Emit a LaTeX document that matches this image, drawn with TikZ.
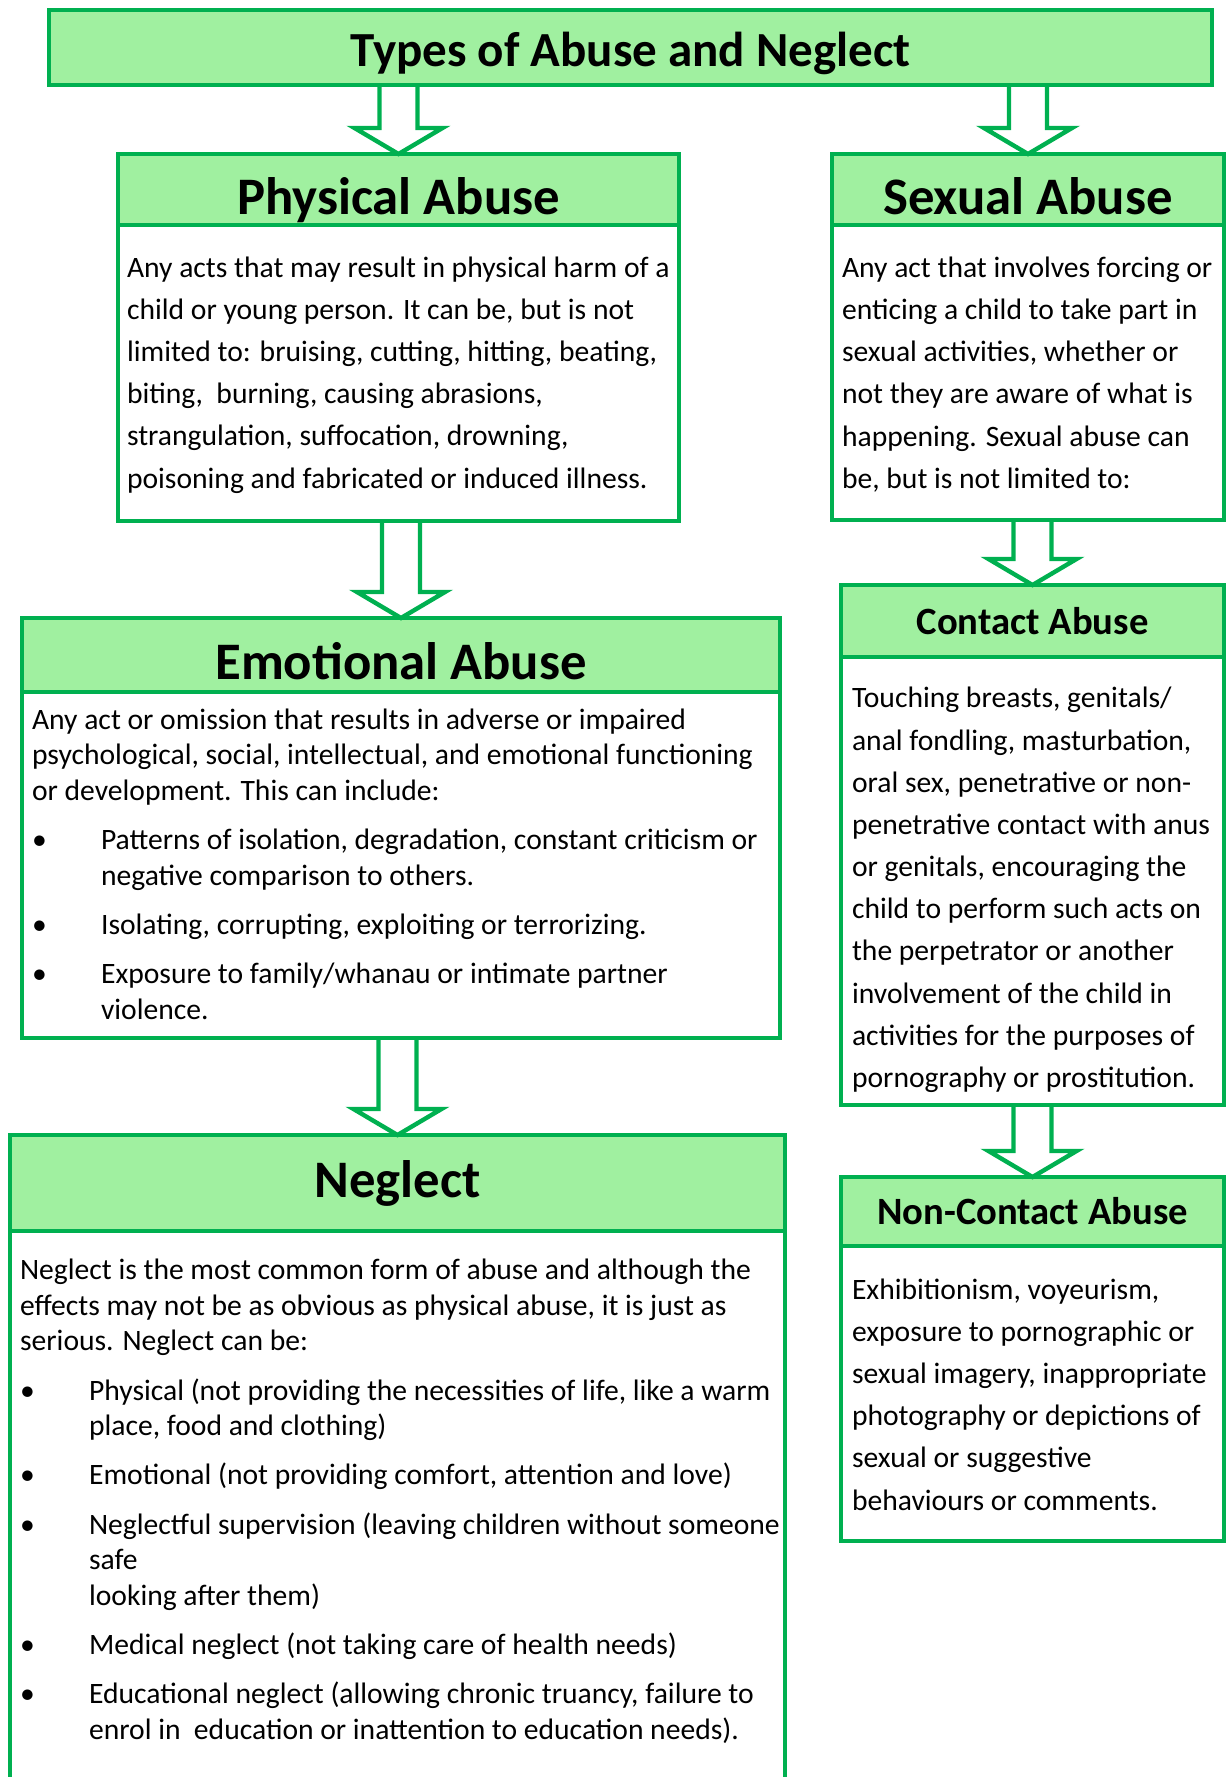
\documentclass[tikz,border=0pt]{standalone}
\usepackage{fontspec}
\setmainfont{Carlito}
\usetikzlibrary{calc}
\definecolor{boxgreen}{RGB}{0,176,80}
\definecolor{headfill}{RGB}{160,240,160}
\newcommand{\bul}{\makebox[1.38cm][l]{\textbullet}}
\newcommand{\ind}{\hspace*{1.38cm}}
\newcommand{\hollowarrow}[2]{%
  \draw[arrowline] ($(#1.south -| #2.north)+(-19,0)$) -- ($(#2.north)+(-19,-26)$)
    -- ($(#2.north)+(-44,-26)$) -- (#2.north) -- ($(#2.north)+(44,-26)$)
    -- ($(#2.north)+(19,-26)$) -- ($(#1.south -| #2.north)+(19,0)$);}

\begin{document}
\begin{tikzpicture}[
  x=0.02cm, y=-0.02cm,
  every node/.style={inner sep=0pt,outer sep=0pt},
  headbox/.style={draw=boxgreen,fill=headfill,line width=2.5pt,
    font=\fontsize{30pt}{36pt}\selectfont\bfseries},
  subhead/.style={headbox,font=\fontsize{22pt}{26pt}\selectfont\bfseries},
  titlebox/.style={headbox,font=\fontsize{27.9pt}{33pt}\selectfont\bfseries},
  bodybox/.style={draw=boxgreen,fill=white,line width=2.5pt},
  loosetext/.style={align=left,font=\fontsize{16.85pt}{24pt}\selectfont},
  tighttext/.style={align=left,font=\fontsize{16.85pt}{20.3pt}\selectfont},
  arrowline/.style={draw=boxgreen,line width=2.5pt}
]
  \useasboundingbox (0,0) rectangle (1226,1777);

  \node[titlebox,minimum width=23.26cm,minimum height=1.5cm,
    text height=0.76cm,text depth=0pt] (title) at (630.5,47.5)
    {Types of Abuse and Neglect};

  % left column
  \node[headbox,minimum width=11.22cm,minimum height=1.42cm,
    text height=1.02cm,text depth=0pt] (physhead) at (398.5,189.5)
    {Physical Abuse};
  \node[bodybox,minimum width=11.22cm,minimum height=5.92cm,anchor=north] (physbody)
    at (physhead.south) {};
  \node[loosetext,anchor=west] (phystext) at ($(physbody.west)+(9,2)$)
    {Any acts that may result in physical harm of a\\
     child or young person. It can be, but is not\\
     limited to: bruising, cutting, hitting, beating,\\
     biting,\ \ burning, causing abrasions,\\
     strangulation, suffocation, drowning,\\
     poisoning and fabricated or induced illness.};

  \node[headbox,minimum width=15.16cm,minimum height=1.48cm,
    text height=0.96cm,text depth=0pt] (emohead) at (401,655)
    {Emotional Abuse};
  \node[bodybox,minimum width=15.16cm,minimum height=6.92cm,anchor=north] (emobody)
    at (emohead.south) {};
  \node[tighttext,anchor=west] (emotext) at ($(emobody.west)+(10,-1)$)
    {Any act or omission that results in adverse or impaired\\
     psychological, social, intellectual, and emotional functioning\\
     or development. This can include:\\[7.7pt]
     \bul Patterns of isolation, degradation, constant criticism or\\
     \ind negative comparison to others.\\[7.7pt]
     \bul Isolating, corrupting, exploiting or terrorizing.\\[7.7pt]
     \bul Exposure to family/whanau or intimate partner\\
     \ind violence.};

  \node[headbox,minimum width=15.5cm,minimum height=1.92cm] (neglhead) at (397.5,1183)
    {Neglect};
  \node[bodybox,minimum width=15.5cm,minimum height=12cm,anchor=north] (neglbody)
    at (neglhead.south) {};
  \node[tighttext,anchor=north west] (negltext) at ($(neglbody.north west)+(10,28)$)
    {Neglect is the most common form of abuse and although the\\
     effects may not be as obvious as physical abuse, it is just as\\
     serious. Neglect can be:\\[7.7pt]
     \bul Physical (not providing the necessities of life, like a warm\\
     \ind place, food and clothing)\\[7.7pt]
     \bul Emotional (not providing comfort, attention and love)\\[7.7pt]
     \bul Neglectful supervision (leaving children without someone\\
     \ind safe\\
     \ind looking after them)\\[7.7pt]
     \bul Medical neglect (not taking care of health needs)\\[7.7pt]
     \bul Educational neglect (allowing chronic truancy, failure to\\
     \ind enrol in\ \ education or inattention to education needs).};

  % right column
  \node[headbox,minimum width=7.84cm,minimum height=1.42cm,
    text height=1.02cm,text depth=0pt] (sexhead) at (1028,189.5)
    {Sexual Abuse};
  \node[bodybox,minimum width=7.84cm,minimum height=5.9cm,anchor=north] (sexbody)
    at (sexhead.south) {};
  \node[loosetext,anchor=west] (sextext) at ($(sexbody.west)+(10,2)$)
    {Any act that involves forcing or\\
     enticing a child to take part in\\
     sexual activities, whether or\\
     not they are aware of what is\\
     happening. Sexual abuse can\\
     be, but is not limited to:};

  \node[subhead,minimum width=7.66cm,minimum height=1.44cm] (conthead) at (1032.5,621)
    {Contact Abuse};
  \node[bodybox,minimum width=7.66cm,minimum height=8.96cm,anchor=north] (contbody)
    at (conthead.south) {};
  \node[loosetext,anchor=west] (conttext) at ($(contbody.west)+(11,9)$)
    {Touching breasts, genitals/\\
     anal fondling, masturbation,\\
     oral sex, penetrative or non-\\
     penetrative contact with anus\\
     or genitals, encouraging the\\
     child to perform such acts on\\
     the perpetrator or another\\
     involvement of the child in\\
     activities for the purposes of\\
     pornography or prostitution.};

  \node[subhead,minimum width=7.66cm,minimum height=1.38cm] (nonhead) at (1032.5,1211.5)
    {Non-Contact Abuse};
  \node[bodybox,minimum width=7.66cm,minimum height=5.9cm,anchor=north] (nonbody)
    at (nonhead.south) {};
  \node[loosetext,anchor=west] (nontext) at ($(nonbody.west)+(11,1)$)
    {Exhibitionism, voyeurism,\\
     exposure to pornographic or\\
     sexual imagery, inappropriate\\
     photography or depictions of\\
     sexual or suggestive\\
     behaviours or comments.};

  \hollowarrow{title}{physhead}
  \hollowarrow{title}{sexhead}
  \hollowarrow{physbody}{emohead}
  \hollowarrow{emobody}{neglhead}
  \hollowarrow{sexbody}{conthead}
  \hollowarrow{contbody}{nonhead}
\end{tikzpicture}
\end{document}
